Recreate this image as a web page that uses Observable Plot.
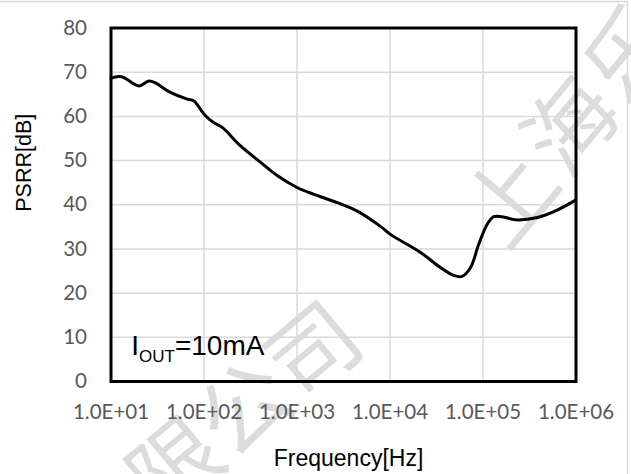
<!DOCTYPE html>
<html><head><meta charset="utf-8">
<script src="https://cdn.jsdelivr.net/npm/d3@7"></script>
<script src="https://cdn.jsdelivr.net/npm/@observablehq/plot@0.6"></script>
<style>body{margin:0;background:#fff}</style>
</head><body><div id="chart"></div>
<script>
// Frequency (Hz) and PSRR (dB)
const freq = [10, 12.1, 13.7, 20, 25.5, 30, 42, 66, 78, 100, 127, 157, 247, 406, 612, 1000, 1500, 2700, 4400, 7900, 10100, 21300, 34900, 48500, 59700, 73500, 90200, 111000, 130600, 160700, 223000, 383000, 628000, 1000000];
const psrr = [68.6, 69.0, 68.8, 66.9, 68.0, 67.6, 65.6, 63.9, 63.5, 60.5, 58.6, 57.5, 53.3, 49.6, 46.6, 43.9, 42.4, 40.5, 38.6, 35.1, 33.3, 29.2, 25.8, 24.0, 23.8, 25.8, 31.1, 35.6, 37.3, 37.3, 36.6, 37.1, 38.8, 41.1];
const yTicks = [0, 10, 20, 30, 40, 50, 60, 70, 80];
const xTicks = [1e1, 1e2, 1e3, 1e4, 1e5, 1e6];
const xTickLabels = ["1.0E+01", "1.0E+02", "1.0E+03", "1.0E+04", "1.0E+05", "1.0E+06"];
const xTitle = "Frequency[Hz]";
const yTitle = "PSRR[dB]";
const note = [{main: "I", sub: "OUT", rest: "=10mA", f: 16.5, v: 5.9}];
const watermarkTop = "上海乐";
const watermarkBottom = "有限公司";

const data = freq.map((f, i) => ({f, v: psrr[i]}));

const chart = Plot.plot({
  width: 631, height: 474,
  marginLeft: 110.5, marginRight: 55.5, marginTop: 27.5, marginBottom: 93,
  x: {type: "log", domain: [10, 1e6]},
  y: {domain: [0, 80]},
  style: {fontFamily: "'Liberation Sans', Arial, sans-serif", background: "transparent", overflow: "visible"},
  marks: [
    Plot.ruleX(xTicks, {stroke: "#d9d9d9", strokeWidth: 1.5}),
    Plot.ruleY(yTicks, {stroke: "#d9d9d9", strokeWidth: 1.5}),
    Plot.axisX({ticks: xTicks, tickSize: 0, tickPadding: 23, tickFormat: d => xTickLabels[xTicks.indexOf(d)], fontSize: 20.5, fontFamily: "Lato", color: "#595959", label: null}),
    Plot.axisY({ticks: yTicks, tickSize: 0, tickPadding: 24, fontSize: 20.5, fontFamily: "Lato", color: "#595959", label: null}),
    Plot.text([xTitle], {text: d => d, frameAnchor: "bottom", lineAnchor: "bottom", dx: 5, dy: 84, fontSize: 23, fill: "black"}),
    Plot.text([yTitle], {text: d => d, frameAnchor: "left", rotate: -90, dx: -87, dy: 7, fontSize: 21.5, fill: "black"}),
    Plot.text(note, {x: "f", y: "v", text: d => d.main + d.sub + d.rest, textAnchor: "start", lineAnchor: "bottom", fontSize: 28, fill: "black"}),
    Plot.line(data, {x: "f", y: "v", curve: "catmull-rom", stroke: "black", strokeWidth: 3}),
    Plot.frame({stroke: "black", strokeWidth: 3})
  ]
});

document.getElementById("chart").appendChild(chart);

// subscript for the annotation
const svg = d3.select(chart);
svg.selectAll("text").filter(function() { return this.textContent === "IOUT=10mA"; }).each(function() {
  const t = d3.select(this);
  t.text(null);
  t.append("tspan").text(note[0].main);
  t.append("tspan").attr("font-size", 17).attr("dy", 7).text(note[0].sub);
  t.append("tspan").attr("dy", -7).text(note[0].rest);
});

// watermark and outer border behind the chart
const bg = svg.insert("g", ":first-child");
bg.append("rect").attr("width", 631).attr("height", 474).attr("fill", "white");
bg.append("path").attr("d", "M0,1.5H627.5V474").attr("fill", "none").attr("stroke", "#d9d9d9").attr("stroke-width", 1.5);
const wm = [[watermarkTop, 567, 120, -50, 4], [watermarkBottom, 206, 432, -40, 0]];
wm.forEach(([s, x, y, r, ls]) => {
  bg.append("text").attr("transform", `translate(${x},${y}) rotate(${r})`)
    .attr("text-anchor", "middle").attr("dominant-baseline", "central")
    .attr("font-family", "'Noto Sans CJK SC'").attr("font-size", 90).attr("font-weight", 400)
    .attr("fill", "#dcdcdc").attr("letter-spacing", ls).text(s);
});
</script></body></html>
